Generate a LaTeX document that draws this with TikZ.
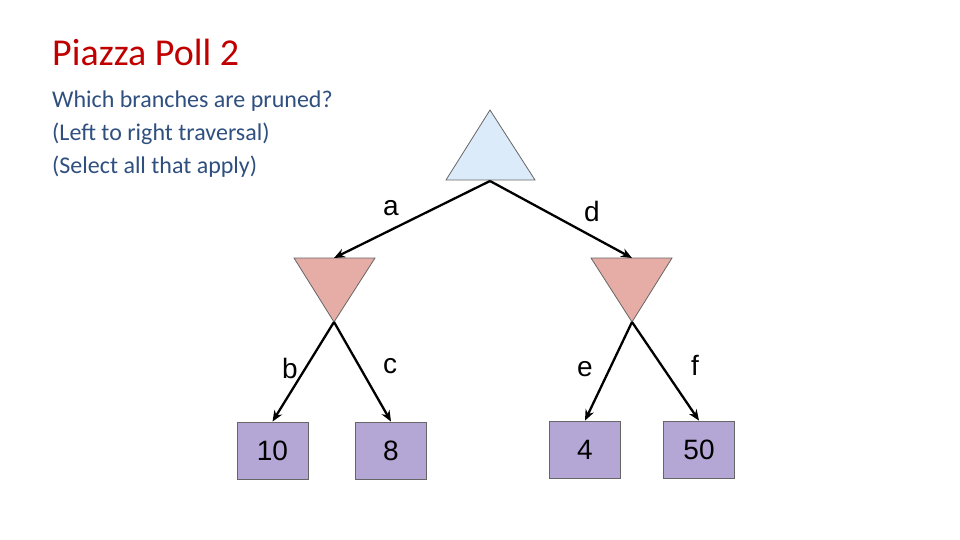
\documentclass[tikz,border=0pt]{standalone}
\usepackage{fontspec}
\setmainfont{Carlito}
\newfontfamily\arial{Liberation Sans}
\usetikzlibrary{arrows.meta}
\definecolor{titlered}{HTML}{C00000}
\definecolor{subblue}{HTML}{2F4F7F}
\definecolor{maxblue}{HTML}{DCEBFA}
\definecolor{minred}{HTML}{E6ADA6}
\definecolor{leafpurple}{HTML}{B4A7D6}
\begin{document}
\begin{tikzpicture}[x=1pt,y=-1pt,
  edge/.style={line width=2.3pt,-{Stealth[length=11pt,width=9pt]}},
  lbl/.style={font=\arial\fontsize{28}{32}\selectfont},
  sub/.style={anchor=base west,text=subblue,font=\fontsize{24}{28}\selectfont,inner sep=0pt},
  leaf/.style={draw=gray!80!black,line width=0.8pt,fill=leafpurple,minimum width=71pt,minimum height=57pt,inner sep=0pt,font=\arial\fontsize{28}{32}\selectfont}]
\useasboundingbox (0,0) rectangle (960,540);
\node[anchor=base west,text=titlered,font=\fontsize{38}{44}\selectfont,inner sep=0pt] (title) at (52,66) {Piazza Poll 2};
\node[sub] (s1) at (52,108) {Which branches are pruned?};
\node[sub] (s2) at (52,141) {(Left to right traversal)};
\node[sub] (s3) at (52,174) {(Select all that apply)};
\draw[draw=gray!80!black,line width=0.8pt,fill=maxblue] (490,110) -- (535,180) -- (446,180) -- cycle;
\draw[draw=gray!80!black,line width=0.8pt,fill=minred] (294,258) -- (375,258) -- (334,322) -- cycle;
\draw[draw=gray!80!black,line width=0.8pt,fill=minred] (591,258) -- (672,258) -- (632,322) -- cycle;
\coordinate (top) at (490,181);
\coordinate (lt) at (334,258); \coordinate (rt) at (632,258);
\coordinate (lb) at (334,322); \coordinate (rb) at (632,322);
\node[leaf] (l10) at (272.5,450.5) {10};
\node[leaf] (l8) at (391,450.5) {8};
\node[leaf] (l4) at (585,449.5) {4};
\node[leaf] (l50) at (699,449.5) {50};
\draw[edge] (top) -- (lt);
\draw[edge] (top) -- (rt);
\draw[edge] (lb) -- (l10.north);
\draw[edge] (lb) -- (l8.north);
\draw[edge] (rb) -- (l4.north);
\draw[edge] (rb) -- (l50.north);
\node[lbl] (a) at (391,208) {a};
\node[lbl] (d) at (592,211) {d};
\node[lbl] (b) at (290,368) {b};
\node[lbl] (c) at (390,366) {c};
\node[lbl] (e) at (585,369) {e};
\node[lbl] (f) at (695,365) {f};
\end{tikzpicture}
\end{document}
